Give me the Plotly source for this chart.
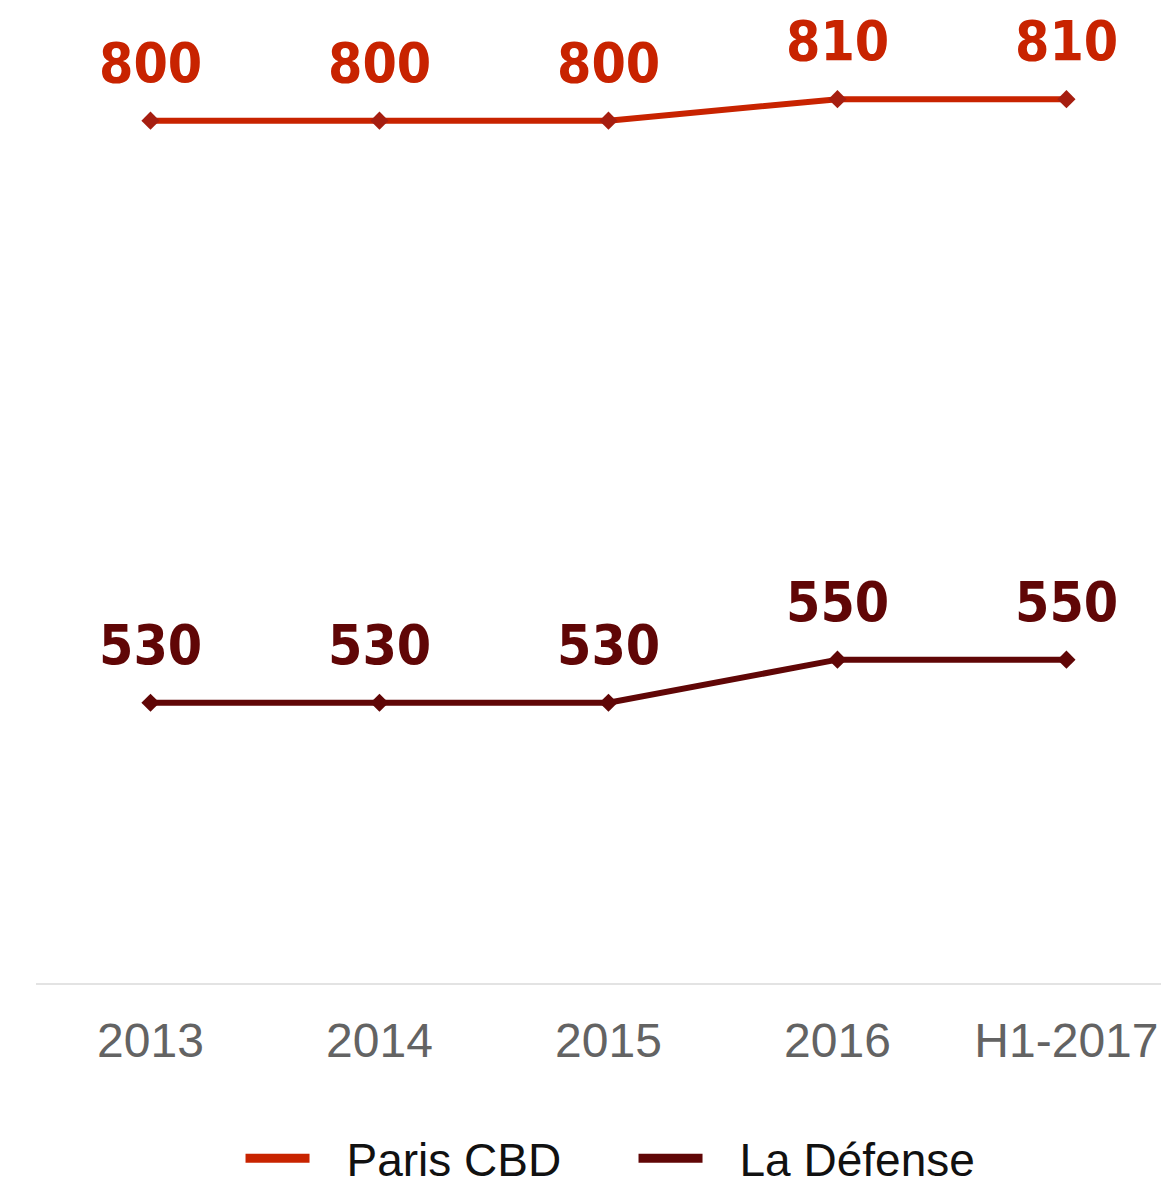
import plotly.graph_objects as go

categories = ["2013", "2014", "2015", "2016", "H1-2017"]
paris_cbd = [800, 800, 800, 810, 810]
la_defense = [530, 530, 530, 550, 550]

series = [
    ("Paris CBD", paris_cbd, "#c82300", "#a61e10"),
    ("La Défense", la_defense, "#600606", "#600606"),
]

fig = go.Figure()
for name, vals, lc, mc in series:
    fig.add_trace(go.Scatter(
        x=categories, y=vals, name=name, mode="lines+markers",
        line=dict(color=lc, width=6),
        marker=dict(symbol="diamond", size=14, color=mc),
        showlegend=False,
    ))
    # legend-only entry (plain line, no marker); dash trims the sample length
    fig.add_trace(go.Scatter(
        x=[None], y=[None], name=name, mode="lines",
        line=dict(color=lc, width=9, dash="64px,200px"), showlegend=True,
    ))
    for i, v in enumerate(vals):
        fig.add_annotation(
            x=i, y=v, text=str(v), showarrow=False,
            yanchor="bottom", yshift=24,
            font=dict(family="DejaVu Sans Condensed", size=55, color=lc, weight="bold"),
        )

fig.update_layout(
    width=1161, height=1187,
    margin=dict(l=36, r=0, t=0, b=204, autoexpand=False),
    paper_bgcolor="white", plot_bgcolor="white",
    showlegend=True,
    legend=dict(orientation="h", x=0.1818, xanchor="left", y=-0.1785, yanchor="middle",
                font=dict(family="Liberation Sans", size=46, color="#111111"),
                itemwidth=96, entrywidth=282, entrywidthmode="pixels", tracegroupgap=0),
    xaxis=dict(type="category", range=[-0.5, 4.413], showgrid=False,
               showline=True, linecolor="#e3e3e3", linewidth=2, zeroline=False,
               ticks="", ticklabelstandoff=14,
               tickfont=dict(family="Liberation Sans", size=48, color="#636363")),
    yaxis=dict(range=[400, 856], visible=False, showgrid=False, zeroline=False),
)

fig.write_html("out.html", config={"displayModeBar": False},
               post_script="document.body.style.margin='0';document.body.style.overflow='hidden';")
